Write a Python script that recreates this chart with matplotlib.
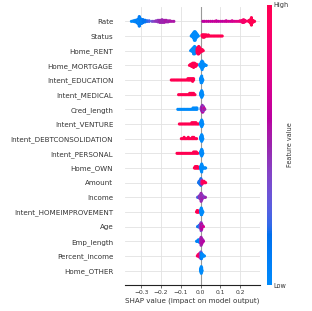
import numpy as np
import matplotlib
matplotlib.use("Agg")
import matplotlib.pyplot as plt
from matplotlib.colors import LinearSegmentedColormap

# features, top to bottom
FEATURES = [
    "Rate", "Status", "Home_RENT", "Home_MORTGAGE", "Intent_EDUCATION",
    "Intent_MEDICAL", "Cred_length", "Intent_VENTURE",
    "Intent_DEBTCONSOLIDATION", "Intent_PERSONAL", "Home_OWN", "Amount",
    "Income", "Intent_HOMEIMPROVEMENT", "Age", "Emp_length",
    "Percent_income", "Home_OTHER",
]

# (shap value, number of samples, feature value 0=low .. 1=high)
RATE = [
    (-0.35, 1, 0.0), (-0.34, 2, 0.05), (-0.33, 4, 0.05), (-0.32, 7, 0.1),
    (-0.315, 9, 0.05), (-0.31, 10, 0.1), (-0.305, 10, 0.05), (-0.30, 9, 0.1),
    (-0.295, 7, 0.05), (-0.29, 6, 0.15), (-0.28, 4, 0.15), (-0.27, 2, 0.2),
    (-0.26, 2, 0.25),
    (-0.245, 1, 0.35), (-0.235, 1, 0.4), (-0.225, 2, 0.45), (-0.215, 4, 0.45),
    (-0.205, 5, 0.5), (-0.195, 6, 0.5), (-0.185, 5, 0.5), (-0.175, 4, 0.55),
    (-0.165, 3, 0.5), (-0.155, 2, 0.55), (-0.145, 1, 0.55), (-0.135, 1, 0.55),
    (0.012, 1, 0.6), (0.02, 1, 0.6), (0.03, 1, 0.65), (0.04, 1, 0.6),
    (0.05, 1, 0.65), (0.06, 1, 0.6), (0.07, 1, 0.65), (0.08, 2, 0.65),
    (0.09, 1, 0.6), (0.1, 1, 0.65), (0.11, 1, 0.6), (0.12, 1, 0.65),
    (0.13, 2, 0.65), (0.14, 1, 0.7), (0.15, 1, 0.65), (0.16, 2, 0.7),
    (0.17, 1, 0.7), (0.18, 1, 0.75), (0.19, 1, 0.75), (0.2, 2, 0.8),
    (0.208, 2, 0.85), (0.213, 5, 0.88), (0.218, 6, 0.9), (0.223, 4, 0.88),
    (0.228, 2, 0.9),
    (0.243, 2, 0.95), (0.248, 4, 0.97), (0.253, 7, 1.0), (0.258, 8, 1.0),
    (0.263, 5, 1.0), (0.268, 3, 1.0), (0.274, 1, 1.0),
]
STATUS = [
    (-0.047, 1, 0), (-0.043, 2, 0), (-0.039, 4, 0), (-0.035, 6, 0),
    (-0.031, 9, 0), (-0.027, 9, 0), (-0.023, 6, 0), (-0.019, 4, 0),
    (-0.015, 2, 0), (-0.011, 1, 0),
    (0.008, 2, 1), (0.012, 3, 1), (0.016, 3, 1), (0.02, 3, 1), (0.025, 2, 1),
    (0.03, 2, 1), (0.035, 1, 1), (0.04, 2, 1), (0.047, 1, 1), (0.054, 1, 1),
    (0.061, 1, 1), (0.068, 1, 1), (0.075, 1, 1), (0.082, 1, 1),
    (0.089, 1, 1), (0.096, 1, 1), (0.103, 1, 1), (0.11, 1, 1),
]
HOME_RENT = [
    (-0.05, 1, 0), (-0.045, 2, 0), (-0.04, 4, 0), (-0.035, 7, 0),
    (-0.03, 8, 0), (-0.025, 6, 0), (-0.02, 4, 0),
    (-0.017, 5, 1), (-0.013, 7, 1), (-0.009, 8, 1), (-0.005, 6, 1),
    (-0.001, 4, 1), (0.004, 3, 1), (0.009, 2, 1), (0.014, 1, 1),
]
HOME_MORTGAGE = [
    (-0.056, 1, 1), (-0.05, 2, 1), (-0.045, 3, 1), (-0.04, 4, 1),
    (-0.035, 5, 1), (-0.03, 4, 1), (-0.025, 3, 1), (-0.02, 2, 1),
    (-0.004, 2, 0), (0.0, 3, 0), (0.004, 6, 0), (0.008, 9, 0), (0.012, 6, 0),
    (0.016, 3, 0), (0.02, 2, 0), (0.025, 1, 0), (0.029, 1, 0),
]
INTENT_EDUCATION = [
    (-0.148, 1, 1), (-0.141, 1, 1), (-0.134, 1, 1), (-0.127, 1, 1),
    (-0.12, 1, 1), (-0.113, 1, 1), (-0.106, 1, 1), (-0.099, 1, 1),
    (-0.092, 1, 1), (-0.085, 1, 1), (-0.078, 1, 1), (-0.071, 1, 1),
    (-0.064, 2, 1), (-0.058, 2, 1), (-0.052, 2, 1), (-0.046, 2, 1),
    (-0.04, 3, 1), (-0.035, 2, 1),
    (0.0, 2, 0), (0.003, 5, 0), (0.006, 6, 0), (0.009, 3, 0), (0.012, 1, 0),
]
INTENT_MEDICAL = [
    (-0.111, 1, 1), (-0.104, 1, 1), (-0.097, 1, 1), (-0.09, 1, 1),
    (-0.083, 1, 1), (-0.076, 1, 1), (-0.069, 1, 1), (-0.062, 1, 1),
    (-0.055, 2, 1), (-0.048, 2, 1), (-0.042, 2, 1), (-0.035, 2, 1),
    (-0.028, 1, 1),
    (0.0, 2, 0), (0.003, 4, 0), (0.006, 6, 0), (0.009, 4, 0), (0.012, 1, 0),
]
CRED_LENGTH = [
    (-0.115, 1, 0), (-0.108, 1, 0), (-0.101, 1, 0), (-0.094, 1, 0),
    (-0.087, 1, 0), (-0.08, 1, 0), (-0.073, 1, 0), (-0.066, 1, 0),
    (-0.059, 1, 0), (-0.052, 1, 0), (-0.045, 1, 0), (-0.038, 2, 0),
    (-0.031, 2, 0), (-0.024, 2, 0), (-0.018, 2, 0),
    (0.003, 2, 0.2), (0.006, 4, 0.5), (0.009, 6, 0.45), (0.012, 5, 0.6),
    (0.015, 4, 0.4), (0.018, 2, 0.7), (0.022, 1, 0.5),
]
INTENT_VENTURE = [
    (-0.107, 1, 1), (-0.1, 1, 1), (-0.093, 1, 1), (-0.086, 1, 1),
    (-0.079, 1, 1), (-0.072, 1, 1), (-0.065, 1, 1), (-0.058, 1, 1),
    (-0.051, 1, 1), (-0.044, 2, 1), (-0.037, 2, 1), (-0.03, 2, 1),
    (-0.023, 2, 1), (-0.016, 1, 1), (-0.01, 1, 1),
    (0.0, 2, 0), (0.003, 4, 0), (0.006, 6, 0), (0.009, 4, 0), (0.012, 1, 0),
]
INTENT_DEBTCONSOLIDATION = [
    (-0.097, 1, 1), (-0.09, 1, 1), (-0.083, 2, 1), (-0.076, 1, 1),
    (-0.069, 1, 1), (-0.062, 2, 1), (-0.055, 1, 1), (-0.048, 1, 1),
    (-0.041, 2, 1), (-0.034, 2, 1), (-0.027, 1, 1), (-0.02, 1, 1),
    (0.0, 2, 0), (0.003, 4, 0), (0.006, 6, 0), (0.009, 4, 0), (0.012, 1, 0),
]
INTENT_PERSONAL = [
    (-0.119, 1, 1), (-0.112, 1, 1), (-0.105, 1, 1), (-0.098, 1, 1),
    (-0.091, 1, 1), (-0.084, 1, 1), (-0.077, 1, 1), (-0.07, 1, 1),
    (-0.063, 1, 1), (-0.056, 1, 1), (-0.049, 1, 1), (-0.042, 1, 1),
    (-0.035, 2, 1), (-0.028, 2, 1), (-0.021, 2, 1), (-0.014, 1, 1),
    (0.0, 2, 0), (0.003, 4, 0), (0.006, 6, 0), (0.009, 4, 0), (0.012, 1, 0),
]
HOME_OWN = [
    (-0.031, 1, 1), (-0.027, 2, 1), (-0.023, 2, 1), (-0.019, 2, 1),
    (-0.015, 2, 1), (-0.011, 1, 1), (-0.007, 1, 1),
    (0.0, 2, 0), (0.002, 3, 0), (0.004, 5, 0), (0.006, 7, 0), (0.008, 4, 0),
    (0.011, 2, 0), (0.015, 1, 0), (0.019, 1, 0), (0.023, 1, 0), (0.026, 1, 0),
]
AMOUNT = [
    (-0.01, 1, 0.1), (-0.007, 2, 0.2), (-0.004, 3, 0.1), (-0.001, 4, 0.3),
    (0.002, 6, 0.15), (0.005, 4, 0.4),
    (0.008, 3, 0.8), (0.011, 2, 0.9), (0.014, 2, 1.0), (0.018, 2, 0.95),
    (0.022, 1, 1.0), (0.026, 1, 1.0),
]
INCOME = [
    (-0.015, 1, 0.3), (-0.011, 1, 0.2), (-0.007, 2, 0.4), (-0.003, 3, 0.5),
    (0.0, 4, 0.35), (0.003, 7, 0.5), (0.006, 5, 0.45), (0.009, 3, 0.55),
    (0.013, 2, 0.4), (0.017, 1, 0.6), (0.021, 1, 0.3), (0.025, 1, 0.5),
]
INTENT_HOMEIMPROVEMENT = [
    (-0.02, 1, 1), (-0.017, 2, 1), (-0.014, 2, 1), (-0.011, 1, 1),
    (-0.008, 1, 1),
    (0.0, 2, 0), (0.002, 4, 0), (0.004, 6, 0), (0.006, 5, 0), (0.008, 3, 0),
    (0.01, 1, 0), (0.012, 1, 0),
]
AGE = [
    (-0.015, 1, 0.1), (-0.011, 1, 0.2), (-0.007, 2, 0.1), (-0.003, 3, 0.3),
    (0.0, 4, 0.5), (0.003, 7, 0.4), (0.006, 5, 0.6), (0.009, 2, 0.5),
    (0.012, 1, 0.6), (0.015, 1, 0.7),
]
EMP_LENGTH = [
    (-0.02, 1, 0.0), (-0.016, 1, 0.1), (-0.012, 2, 0.0), (-0.008, 2, 0.1),
    (-0.004, 3, 0.05), (0.0, 4, 0.4), (0.003, 7, 0.5), (0.006, 5, 0.55),
    (0.009, 3, 0.6), (0.012, 2, 0.5), (0.015, 1, 0.6),
]
PERCENT_INCOME = [
    (-0.016, 1, 0.95), (-0.012, 2, 0.9), (-0.008, 2, 1.0), (-0.004, 4, 0.85),
    (-0.001, 4, 0.7), (0.002, 6, 0.3), (0.005, 5, 0.1), (0.008, 3, 0.0),
    (0.012, 2, 0.0), (0.016, 1, 0.0), (0.02, 1, 0.0),
]
HOME_OTHER = [
    (0.0, 2, 0), (0.002, 4, 0), (0.004, 6, 0), (0.006, 4, 0), (0.008, 1, 0),
]

CLUSTERS = [
    RATE, STATUS, HOME_RENT, HOME_MORTGAGE, INTENT_EDUCATION, INTENT_MEDICAL,
    CRED_LENGTH, INTENT_VENTURE, INTENT_DEBTCONSOLIDATION, INTENT_PERSONAL,
    HOME_OWN, AMOUNT, INCOME, INTENT_HOMEIMPROVEMENT, AGE, EMP_LENGTH,
    PERCENT_INCOME, HOME_OTHER,
]

XTICKS = [-0.3, -0.2, -0.1, 0.0, 0.1, 0.2]


def lch_to_rgb(l, c, h):
    a = c * np.cos(h)
    b = c * np.sin(h)
    fy = (l + 16) / 116
    fx = fy + a / 500
    fz = fy - b / 200

    def finv(t):
        return np.where(t > 6 / 29, t ** 3, 3 * (6 / 29) ** 2 * (t - 4 / 29))

    x = 0.95047 * finv(fx)
    y = finv(fy)
    z = 1.08883 * finv(fz)
    r = 3.2406 * x - 1.5372 * y - 0.4986 * z
    g = -0.9689 * x + 1.8758 * y + 0.0415 * z
    bl = 0.0557 * x - 0.2040 * y + 1.0570 * z
    rgb = np.stack([r, g, bl], -1)
    rgb = np.where(rgb > 0.0031308,
                   1.055 * np.abs(rgb) ** (1 / 2.4) - 0.055, 12.92 * rgb)
    return np.clip(rgb, 0, 1)


# shap-like red/blue map, interpolated in LCh space
n = 100
l_vals = np.r_[np.linspace(54, 40, n // 2), np.linspace(40, 54, n // 2)]
c_vals = np.linspace(70, 90, n)
h_vals = np.linspace(4.6588, 0.35470565 + 2 * np.pi, n)
RED_BLUE = LinearSegmentedColormap.from_list(
    "red_blue", lch_to_rgb(l_vals, c_vals, h_vals))


def swarm_offsets(shaps, row_height=0.4, nbins=100):
    lo, hi = shaps.min(), shaps.max()
    quant = np.round(nbins * (shaps - lo) / (hi - lo + 1e-8))
    inds = np.argsort(quant, kind="stable")
    ys = np.zeros(len(shaps))
    layer, last = 0, None
    for i in inds:
        if quant[i] != last:
            layer = 0
        ys[i] = np.ceil(layer / 2) * ((layer % 2) * 2 - 1)
        layer += 1
        last = quant[i]
    ys *= 0.9 * (row_height / np.max(ys + 1))
    return ys


fig = plt.figure(figsize=(3.12, 3.11), dpi=100, facecolor="white")
ax = fig.add_axes([125 / 312, 25.7 / 311, 135 / 312, 278.6 / 311])

nrows = len(FEATURES)
for k, (name, cl) in enumerate(zip(FEATURES, CLUSTERS)):
    pos = nrows - 1 - k
    shaps = np.concatenate([[v] * c for v, c, f in cl]).astype(float)
    fvals = np.concatenate([[f] * c for v, c, f in cl]).astype(float)
    ys = swarm_offsets(shaps)
    ax.scatter(shaps, pos + ys, c=fvals, cmap=RED_BLUE, vmin=0, vmax=1,
               s=5, linewidths=0, zorder=3)

ax.axvline(0, color="#999999", lw=0.8, zorder=1)
ax.grid(True, color="#e2e2e2", lw=0.6, zorder=0)
ax.set_axisbelow(True)

ax.set_xlim(-0.3825, 0.3014)
ax.set_ylim(-1, nrows)
ax.set_xticks(XTICKS)
ax.set_xticklabels([f"{t:.1f}".replace("-", "\u2212") for t in XTICKS])
ax.set_yticks(range(nrows))
ax.set_yticklabels(FEATURES[::-1])

for s in ["top", "right", "left"]:
    ax.spines[s].set_visible(False)
ax.spines["bottom"].set_linewidth(0.8)
ax.spines["bottom"].set_color("#222222")
ax.tick_params(axis="y", length=0, pad=8.5, labelsize=5.1,
               labelcolor="#333333")
ax.tick_params(axis="x", length=2, width=0.5, pad=1.5, labelsize=4.3,
               labelcolor="#333333", color="#333333")
ax.set_xlabel("SHAP value (impact on model output)", fontsize=5.1,
              color="#333333", labelpad=2)

cax = fig.add_axes([266.7 / 312, 26 / 311, 5 / 312, 280 / 311])
sm = plt.cm.ScalarMappable(cmap=RED_BLUE, norm=plt.Normalize(0, 1))
cb = fig.colorbar(sm, cax=cax, ticks=[0, 1])
cb.set_ticklabels(["Low", "High"])
cb.outline.set_visible(False)
cb.ax.tick_params(length=0, pad=1, labelsize=4.7, labelcolor="#333333")
cb.set_label("Feature value", fontsize=4.7, color="#333333", labelpad=-1)

fig.savefig("out.png", dpi=100, facecolor="white")
